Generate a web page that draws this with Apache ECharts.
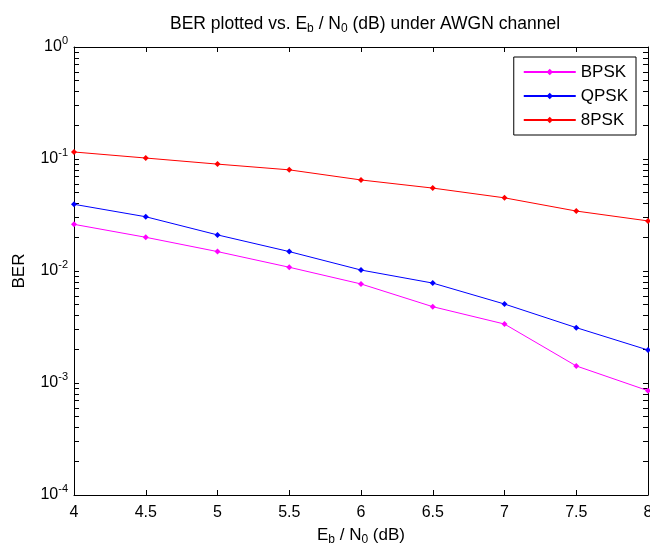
<!DOCTYPE html>
<html><head><meta charset="utf-8">
<script src="https://cdn.jsdelivr.net/npm/echarts@6/dist/echarts.min.js"></script>
<style>html,body{margin:0;padding:0;background:#fff}#c{width:650px;height:543px}</style>
</head><body><div id="c"></div>
<script>
const ebn0 = [4, 4.5, 5, 5.5, 6, 6.5, 7, 7.5, 8];
const berBPSK = [0.0261, 0.0200, 0.0149, 0.0108, 0.00766, 0.00480, 0.00336, 0.00142, 0.000854];
const berQPSK = [0.0394, 0.0305, 0.0210, 0.0149, 0.0102, 0.0078, 0.00507, 0.00312, 0.00197];
const ber8PSK = [0.1155, 0.102, 0.090, 0.080, 0.065, 0.055, 0.045, 0.0343, 0.028];
const yDecades = [1e-4, 1e-3, 1e-2, 1e-1, 1];
const xTicks = [4, 4.5, 5, 5.5, 6, 6.5, 7, 7.5, 8];

const yTickVals = [];
for (let d = 0; d < yDecades.length; d++) {
  yTickVals.push(yDecades[d]);
  if (d < yDecades.length - 1) for (let m = 2; m <= 9; m++) yTickVals.push(+(m * yDecades[d]).toPrecision(3));
}
const font = 'Liberation Sans';
const pair = v => ebn0.map((x, i) => [x, v[i]]);
const chart = echarts.init(document.getElementById('c'));
const tickStyle = {inside: true, length: 5, lineStyle: {color: '#000', width: 1}};
const lineStyle = {lineStyle: {color: '#000', width: 1}};
chart.setOption({
  animation: false,
  backgroundColor: '#fff',
  textStyle: {fontFamily: font},
  title: {
    text: 'BER plotted vs. E{s|b} / N{s|0} (dB) under AWGN channel',
    left: 360, top: 9, textAlign: 'center',
    textStyle: {fontFamily: font, fontSize: 17.5, fontWeight: 'normal', color: '#000',
      rich: {s: {fontFamily: font, fontSize: 12, padding: [9, 0, 0, 0], color: '#000'}}}
  },
  legend: {
    orient: 'vertical', right: 14, top: 57,
    backgroundColor: '#fff', borderColor: '#000', borderWidth: 1, borderRadius: 0,
    padding: [5, 8, 5, 9], itemWidth: 52, itemHeight: 8, itemGap: 4,
    textStyle: {fontFamily: font, fontSize: 17, color: '#000', lineHeight: 20},
    data: ['BPSK', 'QPSK', '8PSK']
  },
  grid: {left: 74, right: 2, top: 47, bottom: 48, outerBoundsMode: 'none', containLabel: false},
  xAxis: [{
    type: 'value', min: 4, max: 8, interval: 0.5,
    name: 'E{s|b} / N{s|0} (dB)', nameLocation: 'middle', nameGap: 30,
    nameTextStyle: {fontFamily: font, fontSize: 17, color: '#000',
      rich: {s: {fontFamily: font, fontSize: 12, padding: [9, 0, 0, 0], color: '#000'}}},
    axisLine: lineStyle, axisTick: tickStyle, splitLine: {show: false},
    axisLabel: {color: '#000', fontSize: 16, fontFamily: font, margin: 10,
      customValues: xTicks, formatter: v => String(v)}
  }, {
    type: 'value', min: 4, max: 8, interval: 0.5, position: 'top',
    axisLine: lineStyle, axisTick: tickStyle, splitLine: {show: false}, axisLabel: {show: false}
  }],
  yAxis: [{
    type: 'log', logBase: 10, min: 1e-4, max: 1,
    name: 'BER', nameLocation: 'middle', nameGap: 46, nameRotate: 90,
    nameTextStyle: {fontFamily: font, fontSize: 17, color: '#000'},
    axisLine: lineStyle, axisTick: Object.assign({customValues: yTickVals}, tickStyle),
    splitLine: {show: false}, minorTick: {show: false},
    axisLabel: {color: '#000', fontFamily: font, margin: 6, customValues: yDecades,
      formatter: v => '{b|10}{s|' + Math.round(Math.log10(v)) + '}',
      rich: {b: {fontFamily: font, fontSize: 16, color: '#000'},
             s: {fontFamily: font, fontSize: 11, color: '#000', padding: [0, 0, 12, 0]}}}
  }, {
    type: 'log', logBase: 10, min: 1e-4, max: 1, position: 'right',
    axisLine: lineStyle, axisTick: Object.assign({customValues: yTickVals}, tickStyle),
    splitLine: {show: false}, axisLabel: {show: false}
  }],
  series: [
    {name: 'BPSK', type: 'line', data: pair(berBPSK), color: '#ff00ff', symbol: 'diamond', symbolSize: 6,
     lineStyle: {width: 1}},
    {name: 'QPSK', type: 'line', data: pair(berQPSK), color: '#0000ff', symbol: 'diamond', symbolSize: 6,
     lineStyle: {width: 1}},
    {name: '8PSK', type: 'line', data: pair(ber8PSK), color: '#ff0000', symbol: 'diamond', symbolSize: 6,
     lineStyle: {width: 1}}
  ]
});
</script></body></html>
